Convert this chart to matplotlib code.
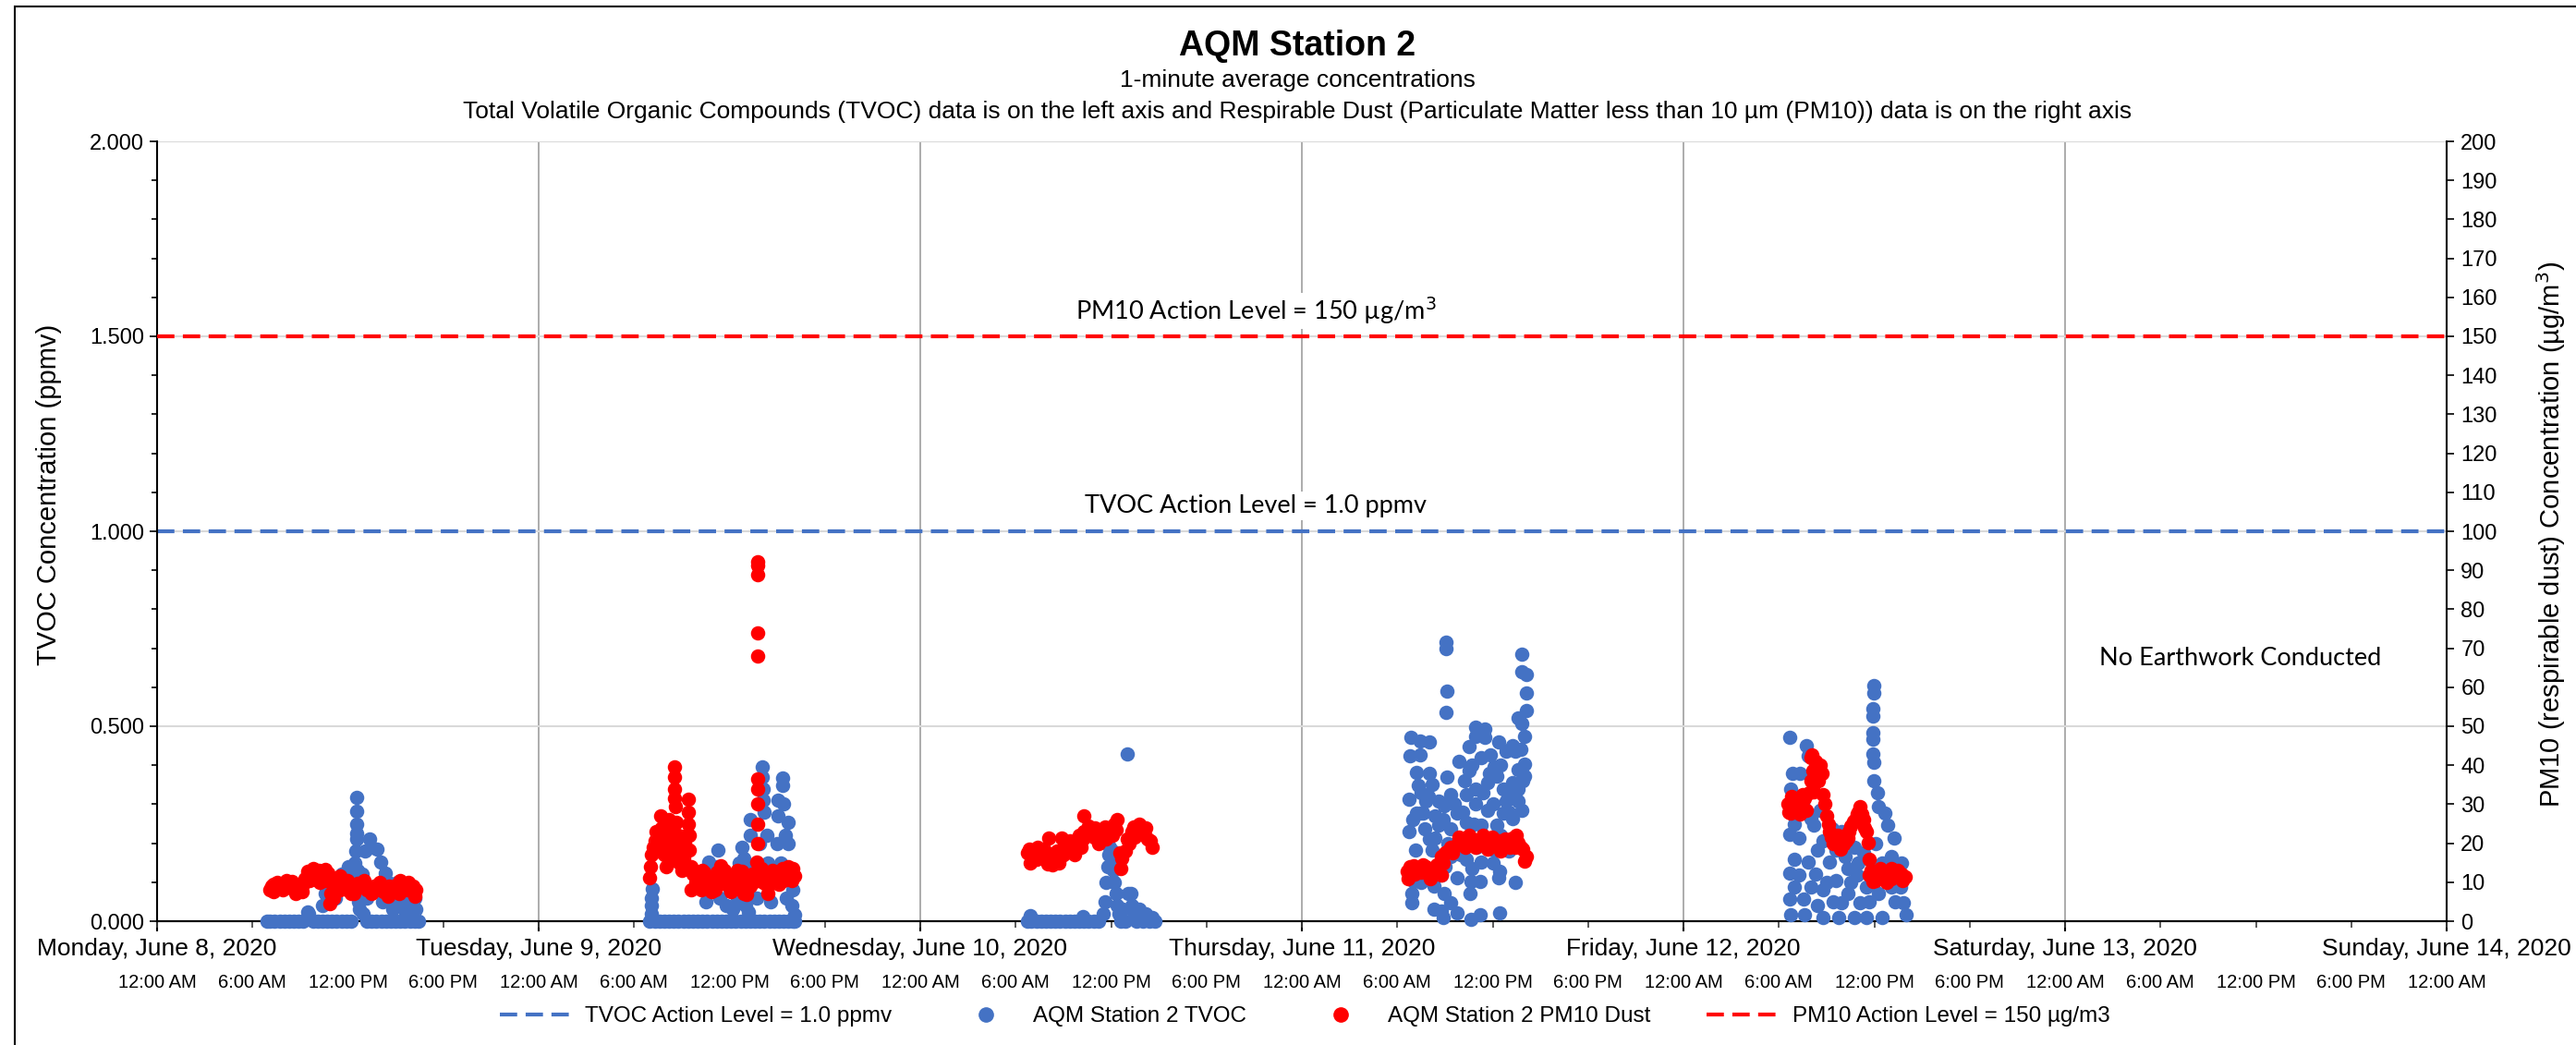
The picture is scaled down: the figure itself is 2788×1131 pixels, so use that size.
import matplotlib.pyplot as plt
import matplotlib.dates as mdates
from matplotlib.lines import Line2D
from matplotlib.patches import Rectangle
from matplotlib.ticker import MultipleLocator
from datetime import datetime, timedelta

# 1-minute readings: (hour of day, value)
# TVOC in ppmv (left axis), PM10 in ug/m3 (right axis)
tvoc_jun08 = [
    (6.9, 0.0), (7.1, 0.0), (7.4, 0.0), (7.7, 0.0), (8.0, 0.0), (8.3, 0.0), (8.6, 0.0), (8.9, 0.0),
    (9.2, 0.0), (9.47, 0.024), (9.55, 0.02), (9.8, 0.0), (10.1, 0.0), (10.4, 0.0), (10.7, 0.0),
    (11.0, 0.0), (11.3, 0.0), (11.6, 0.0), (11.9, 0.0), (12.2, 0.0),
    (10.4, 0.04), (10.6, 0.07), (10.8, 0.05), (11.0, 0.1), (11.2, 0.06), (11.4, 0.08), (11.6, 0.12),
    (11.8, 0.09), (12.0, 0.14), (12.2, 0.11),
    (12.45, 0.15), (12.5, 0.18), (12.55, 0.21), (12.55, 0.225), (12.55, 0.249), (12.55, 0.282),
    (12.55, 0.317), (12.6, 0.13), (12.65, 0.05), (12.7, 0.03), (12.96, 0.02),
    (12.9, 0.12), (13.1, 0.18), (13.37, 0.21), (13.5, 0.19), (13.83, 0.185), (14.06, 0.152),
    (14.35, 0.123), (14.5, 0.1), (14.7, 0.08), (14.9, 0.05), (15.1, 0.1), (15.3, 0.07), (15.5, 0.03),
    (15.7, 0.08), (15.9, 0.04), (16.1, 0.02), (16.3, 0.03),
    (13.2, 0.0), (13.5, 0.0), (13.8, 0.0), (14.1, 0.0), (14.4, 0.0), (14.7, 0.0), (15.0, 0.0),
    (15.3, 0.0), (15.6, 0.0), (15.9, 0.0), (16.2, 0.0), (16.45, 0.0),
    (13.2, 0.06), (13.7, 0.09), (14.2, 0.05), (14.8, 0.03), (15.6, 0.05), (16.2, 0.06),
]
pm10_jun08 = [
    (7.09, 8.0), (7.32, 9.5), (7.55, 10.0), (7.84, 9.2), (8.14, 10.4), (8.43, 8.5), (8.72, 7.2),
    (9.01, 8.8), (9.3, 11.0), (9.47, 12.8), (9.76, 11.5), (9.99, 12.0), (10.17, 13.0), (10.46, 12.0),
    (10.75, 12.3), (10.87, 4.5), (10.92, 7.0), (11.16, 9.0), (11.33, 10.5), (11.51, 11.6),
    (11.74, 9.0), (11.97, 8.0), (12.2, 7.1), (12.49, 8.5), (12.78, 9.5), (13.07, 9.0), (13.37, 8.5),
    (13.66, 9.0), (13.95, 8.2), (14.24, 7.5), (14.53, 6.4), (14.82, 8.0), (15.11, 9.5), (15.28, 10.4),
    (15.52, 8.5), (15.75, 8.0), (15.98, 8.5), (16.27, 8.0),
    (7.2, 9.0), (7.7, 8.5), (8.0, 9.5), (8.6, 9.0), (9.2, 9.5), (9.6, 10.5), (10.3, 11.0),
    (10.6, 10.5), (11.9, 9.5), (12.6, 9.8), (13.2, 8.0), (13.8, 8.0), (14.4, 8.5), (15.0, 8.5),
    (15.6, 9.5), (16.1, 9.0),
    (7.3, 7.5), (7.9, 8.0), (8.5, 10.2), (9.1, 7.5), (9.8, 13.5), (10.2, 10.0), (10.6, 13.3),
    (11.1, 6.0), (11.5, 8.0), (12.0, 10.5), (12.4, 7.0), (13.0, 10.5), (13.5, 7.0), (14.0, 10.0),
    (14.6, 9.0), (15.2, 7.0), (15.8, 10.0), (16.2, 6.5),
]

tvoc_jun09 = [
    (6.97, 0.0), (7.3, 0.0), (7.6, 0.0), (7.9, 0.0), (8.2, 0.0), (8.5, 0.0), (8.8, 0.0), (9.1, 0.0),
    (9.4, 0.0), (9.7, 0.0), (10.0, 0.0), (10.3, 0.0), (10.6, 0.0), (10.9, 0.0), (11.2, 0.0),
    (11.5, 0.0), (11.8, 0.0), (12.1, 0.0), (12.4, 0.0), (12.7, 0.0), (13.0, 0.0), (13.3, 0.0),
    (13.6, 0.0), (13.9, 0.0), (14.2, 0.0), (14.5, 0.0), (14.8, 0.0), (15.1, 0.0), (15.4, 0.0),
    (15.7, 0.0), (16.0, 0.0), (16.1, 0.0),
    (7.1, 0.02), (7.1, 0.04), (7.1, 0.06), (7.12, 0.083),
    (10.5, 0.05), (10.7, 0.152), (10.6, 0.1), (10.8, 0.08), (11.0, 0.12), (11.27, 0.182), (11.2, 0.14),
    (11.4, 0.06), (11.6, 0.1), (11.8, 0.04), (12.0, 0.08), (12.2, 0.03), (12.4, 0.12), (12.6, 0.15),
    (12.78, 0.19), (12.9, 0.16), (13.1, 0.1), (13.31, 0.26), (13.3, 0.22), (13.5, 0.14), (13.7, 0.06),
    (13.9, 0.2), (14.06, 0.396), (14.06, 0.37), (14.1, 0.34), (14.1, 0.31), (14.2, 0.28),
    (14.36, 0.22), (14.4, 0.15), (14.5, 0.1), (14.6, 0.05), (14.8, 0.12), (15.05, 0.31),
    (15.05, 0.27), (15.0, 0.2), (15.2, 0.15), (15.34, 0.367), (15.34, 0.348), (15.4, 0.3),
    (15.5, 0.22), (15.69, 0.254), (15.69, 0.2), (15.8, 0.12), (15.92, 0.04), (16.1, 0.017),
    (16.0, 0.08), (15.6, 0.06), (13.0, 0.04), (12.5, 0.06), (13.2, 0.024),
]
pm10_jun09 = [
    (6.97, 11.1), (7.05, 14.0), (7.1, 17.0), (7.21, 19.0), (7.3, 20.6), (7.4, 23.0), (7.5, 18.0),
    (7.67, 27.0), (7.7, 24.0), (7.8, 21.0), (7.9, 17.0), (8.0, 22.0), (8.13, 24.6), (8.2, 20.0),
    (8.3, 17.0), (8.54, 39.6), (8.54, 37.0), (8.54, 34.0), (8.56, 31.5), (8.58, 29.4), (8.66, 25.4),
    (8.7, 20.0), (8.75, 15.2), (8.9, 17.0), (9.1, 16.0), (9.41, 31.3), (9.41, 28.0), (9.43, 25.0),
    (9.45, 22.0), (9.47, 18.2), (9.59, 8.0), (9.7, 12.0), (9.9, 10.0), (10.11, 11.1), (10.3, 13.0),
    (10.5, 9.0), (10.87, 7.6), (11.0, 11.0), (11.2, 12.5), (11.45, 14.2), (11.6, 11.0), (11.8, 9.5),
    (12.03, 10.4), (12.2, 11.0), (12.4, 9.0), (12.6, 11.5), (12.78, 12.8), (12.9, 10.0),
    (13.07, 6.9), (13.3, 9.0), (13.5, 10.0), (13.66, 11.1), (13.72, 15.2), (13.75, 20.0),
    (13.77, 25.0), (13.77, 30.0), (13.8, 34.0), (13.77, 36.5),
    (13.75, 68.0), (13.75, 74.0), (13.75, 88.9), (13.75, 91.2), (13.75, 92.2),
    (13.9, 12.0), (14.1, 10.0), (14.3, 9.5), (14.53, 9.5), (14.8, 11.0), (15.0, 12.0),
    (15.34, 13.5), (15.6, 12.0), (15.8, 12.5), (16.1, 11.6),
    (7.6, 20.0), (8.4, 22.0), (9.2, 20.0), (10.0, 12.5), (10.7, 10.0), (11.3, 10.0), (12.3, 12.0),
    (13.0, 11.0), (14.2, 12.5), (15.2, 11.0), (15.9, 10.5),
    (8.0, 14.0), (8.2, 26.0), (8.8, 22.0), (9.0, 13.0), (9.3, 22.0), (9.6, 14.0), (10.2, 8.0),
    (10.4, 12.5), (11.1, 8.0), (11.7, 13.0), (12.1, 7.5), (12.5, 13.0), (12.9, 7.0), (13.4, 12.0),
    (14.0, 13.5), (14.4, 7.0), (14.7, 13.0), (15.1, 9.5), (15.4, 10.5), (15.7, 14.0), (16.0, 13.5),
]

tvoc_jun10 = [
    (6.74, 0.0), (6.9, 0.015), (7.0, 0.0), (7.3, 0.0), (7.6, 0.0), (7.9, 0.0), (8.2, 0.0), (8.5, 0.0),
    (8.8, 0.0), (9.1, 0.0), (9.4, 0.0), (9.7, 0.0), (10.0, 0.0), (10.2, 0.012), (10.3, 0.0),
    (10.6, 0.0), (10.9, 0.0), (11.2, 0.0),
    (11.5, 0.02), (11.6, 0.05), (11.7, 0.1), (11.8, 0.14), (11.85, 0.17), (11.9, 0.19), (12.0, 0.16),
    (12.1, 0.18), (12.15, 0.13), (12.2, 0.1), (12.3, 0.07), (12.4, 0.04), (12.5, 0.02), (12.6, 0.0),
    (12.7, 0.03), (12.9, 0.0), (13.02, 0.429), (13.1, 0.07), (13.25, 0.07), (13.3, 0.04),
    (13.5, 0.02), (13.6, 0.0), (13.8, 0.03), (14.0, 0.0), (14.2, 0.02), (14.4, 0.0), (14.6, 0.01),
    (14.76, 0.0),
]
pm10_jun10 = [
    (6.74, 17.5), (6.85, 18.5), (7.0, 16.5), (7.2, 17.0), (7.32, 15.9), (7.5, 17.5), (7.7, 16.0),
    (8.02, 14.7), (8.05, 21.3), (8.2, 17.0), (8.4, 16.0), (8.6, 18.0), (8.83, 16.6), (8.9, 21.3),
    (9.1, 19.0), (9.3, 18.0), (9.59, 19.0), (9.8, 20.5), (10.0, 22.0), (10.2, 21.0), (10.28, 27.0),
    (10.3, 23.0), (10.5, 22.0), (10.7, 24.0), (10.9, 21.5), (11.2, 20.0), (11.4, 23.0),
    (11.6, 24.2), (11.8, 23.0), (12.0, 24.0), (12.2, 25.0), (12.37, 26.0), (12.55, 17.5),
    (12.6, 13.5), (12.65, 16.0), (12.9, 18.0), (13.13, 20.0), (13.3, 23.0), (13.42, 24.2),
    (13.6, 23.0), (13.89, 23.5), (14.1, 22.0), (14.3, 21.0), (14.58, 19.0),
    (6.9, 15.0), (7.4, 19.0), (7.8, 18.5), (8.3, 14.5), (8.7, 15.0), (9.0, 17.0), (9.4, 20.5),
    (9.7, 17.0), (10.1, 19.0), (10.6, 24.5), (11.0, 24.0), (11.3, 21.5), (11.7, 21.0), (12.1, 22.0),
    (12.3, 23.5), (13.0, 21.0), (13.5, 21.5), (13.8, 25.0), (14.2, 24.0), (14.45, 20.5),
]

tvoc_jun11 = [
    (9.06, 0.716), (9.06, 0.700), (9.10, 0.589), (9.06, 0.536), (13.81, 0.684), (13.81, 0.640),
    (14.10, 0.632), (14.10, 0.585), (14.10, 0.541), (13.61, 0.522), (13.81, 0.506), (14.0, 0.475),
    (6.83, 0.471), (7.41, 0.463), (8.03, 0.459), (6.79, 0.423), (7.41, 0.427), (10.93, 0.498),
    (10.93, 0.475), (11.48, 0.494), (11.48, 0.471), (12.35, 0.459), (10.51, 0.447), (9.89, 0.410),
    (10.51, 0.386), (9.12, 0.370), (7.22, 0.382), (8.03, 0.380), (7.32, 0.348), (6.74, 0.313),
    (7.99, 0.320), (10.22, 0.360), (11.29, 0.419), (11.87, 0.427), (12.06, 0.396), (12.84, 0.435),
    (13.23, 0.451), (14.0, 0.404), (14.0, 0.372), (13.61, 0.340), (13.61, 0.309), (13.81, 0.285),
    (8.96, 0.297), (7.41, 0.277), (8.38, 0.270), (9.74, 0.277), (10.90, 0.301), (11.67, 0.285),
    (12.64, 0.277), (6.74, 0.230), (7.70, 0.238), (8.58, 0.246), (9.35, 0.238), (10.32, 0.254),
    (11.29, 0.246), (12.26, 0.246), (13.23, 0.262), (13.42, 0.206), (7.12, 0.183), (8.19, 0.183),
    (9.35, 0.167), (10.71, 0.136), (11.29, 0.151), (12.45, 0.127), (12.35, 0.111), (13.42, 0.099),
    (7.03, 0.103), (7.51, 0.099), (8.29, 0.091), (8.77, 0.119), (9.74, 0.111), (10.61, 0.103),
    (11.19, 0.103), (6.93, 0.072), (6.93, 0.048), (8.96, 0.072), (9.35, 0.048), (10.55, 0.070),
    (8.29, 0.031), (8.87, 0.009), (9.74, 0.021), (10.61, 0.005), (11.19, 0.017), (12.41, 0.021),
    (8.77, 0.025), (7.80, 0.309), (8.58, 0.309), (9.35, 0.325), (10.32, 0.325), (10.90, 0.340),
    (11.68, 0.356), (12.26, 0.372), (12.64, 0.340), (13.03, 0.325), (8.38, 0.214), (9.16, 0.199),
    (9.93, 0.214), (10.51, 0.199), (11.68, 0.214), (12.06, 0.183), (10.32, 0.159), (7.99, 0.135),
    (7.61, 0.277), (12.84, 0.309), (13.23, 0.356), (13.61, 0.388), (13.42, 0.435), (7.22, 0.277),
    (6.83, 0.135), (7.5, 0.33), (8.2, 0.35), (8.9, 0.26), (9.6, 0.30), (10.1, 0.28), (10.8, 0.25),
    (11.4, 0.33), (12.0, 0.30), (12.5, 0.22), (13.0, 0.28), (13.8, 0.44), (13.9, 0.36), (7.0, 0.26),
    (8.0, 0.21), (9.0, 0.14), (10.0, 0.17), (11.0, 0.19), (12.0, 0.15), (13.0, 0.18), (11.8, 0.38),
    (12.5, 0.40), (10.7, 0.40),
]
pm10_jun11 = [
    (6.63, 12.8), (7.03, 14.2), (7.23, 13.4), (7.5, 12.5), (8.02, 12.8), (8.4, 13.0), (8.78, 11.9),
    (8.8, 16.6), (9.0, 17.5), (9.36, 19.0), (9.7, 19.5), (10.1, 20.1), (10.4, 20.5), (10.7, 21.0),
    (11.0, 20.5), (11.27, 20.6), (11.55, 20.0), (11.85, 20.1), (12.2, 19.5), (12.67, 19.0),
    (12.95, 20.0), (13.25, 21.3), (13.6, 20.1), (13.9, 18.5), (14.12, 16.6),
    (6.8, 14.0), (7.8, 14.0), (9.2, 18.0), (10.3, 19.0), (11.1, 19.5), (12.4, 20.5), (13.4, 19.0),
    (6.7, 11.0), (7.1, 12.0), (7.6, 14.5), (8.1, 11.0), (8.5, 14.5), (8.9, 15.0), (9.5, 17.5),
    (9.9, 21.5), (10.5, 22.0), (10.9, 19.0), (11.4, 22.0), (11.7, 18.5), (12.0, 21.5), (12.5, 18.0),
    (12.8, 21.0), (13.1, 19.0), (13.5, 22.0), (13.75, 19.0), (14.0, 15.5),
]

tvoc_jun12 = [
    (11.89, 0.546), (11.89, 0.526), (11.89, 0.483), (11.89, 0.467), (11.89, 0.428), (11.99, 0.408),
    (11.99, 0.360), (12.18, 0.329), (6.66, 0.471), (7.73, 0.451), (7.83, 0.423), (6.86, 0.380),
    (7.34, 0.380), (6.76, 0.340), (6.95, 0.285), (6.66, 0.222), (6.95, 0.159), (6.66, 0.123),
    (6.95, 0.088), (6.66, 0.056), (6.76, 0.017), (7.54, 0.056), (7.63, 0.017), (7.24, 0.119),
    (7.83, 0.151), (8.41, 0.182), (8.79, 0.206), (8.79, 0.080), (8.79, 0.009), (9.18, 0.151),
    (9.57, 0.104), (9.76, 0.009), (9.96, 0.230), (10.15, 0.167), (10.34, 0.072), (10.73, 0.009),
    (10.92, 0.119), (11.12, 0.048), (11.31, 0.175), (12.28, 0.293), (12.67, 0.277), (12.86, 0.246),
    (13.25, 0.214), (13.06, 0.167), (13.44, 0.119), (13.64, 0.088), (13.83, 0.048), (14.02, 0.017),
    (12.47, 0.009), (11.51, 0.009), (12.28, 0.072), (8.21, 0.246), (8.60, 0.285), (8.02, 0.088),
    (9.57, 0.182), (10.34, 0.135), (11.51, 0.088), (7.24, 0.214), (8.02, 0.262), (9.37, 0.238),
    (10.73, 0.190), (11.89, 0.135), (13.06, 0.088), (8.41, 0.040), (9.96, 0.048), (11.95, 0.604),
    (11.95, 0.585), (7.0, 0.25), (7.5, 0.30), (8.3, 0.12), (9.0, 0.10), (9.4, 0.05), (10.5, 0.10),
    (11.0, 0.15), (11.7, 0.05), (12.1, 0.20), (12.5, 0.15), (13.3, 0.05), (13.7, 0.15),
]
pm10_jun12 = [
    (6.57, 30.1), (6.76, 27.7), (7.05, 29.3), (7.44, 30.1), (7.73, 28.4), (8.02, 41.9), (8.08, 42.7),
    (8.12, 38.7), (8.21, 33.2), (8.41, 39.5), (8.7, 37.9), (8.79, 32.4), (8.99, 26.9), (9.18, 22.9),
    (9.57, 20.5), (10.05, 19.7), (10.34, 21.3), (10.54, 24.4), (10.83, 26.0), (11.12, 29.3),
    (11.31, 26.0), (11.51, 22.9), (11.6, 20.1), (11.7, 15.8), (11.7, 11.8), (11.89, 10.3),
    (12.28, 12.6), (12.67, 11.1), (13.06, 13.4), (13.44, 11.8), (13.93, 11.4),
    (6.9, 31.0), (7.2, 28.0), (7.6, 31.5), (9.3, 21.5), (9.8, 19.5), (12.0, 12.0), (12.5, 12.0),
    (12.9, 12.0), (13.3, 12.5), (13.7, 12.0),
    (6.6, 28.0), (6.8, 32.0), (7.3, 27.5), (7.5, 32.5), (7.9, 33.0), (8.0, 36.0), (8.3, 41.0),
    (8.5, 36.0), (8.6, 40.0), (8.9, 30.0), (9.1, 25.0), (9.4, 20.0), (9.7, 22.0), (9.9, 18.5),
    (10.2, 20.5), (10.4, 23.0), (10.7, 25.5), (10.9, 27.5), (11.0, 28.0), (11.2, 27.5), (11.4, 24.0),
    (11.8, 13.0), (12.1, 10.5), (12.4, 13.5), (12.8, 10.0), (13.1, 11.0), (13.5, 13.0), (13.8, 10.5),
]

tvoc_days = [(0, tvoc_jun08), (1, tvoc_jun09), (2, tvoc_jun10), (3, tvoc_jun11), (4, tvoc_jun12)]
pm10_days = [(0, pm10_jun08), (1, pm10_jun09), (2, pm10_jun10), (3, pm10_jun11), (4, pm10_jun12)]

day_labels = ["Monday, June 8, 2020", "Tuesday, June 9, 2020", "Wednesday, June 10, 2020",
              "Thursday, June 11, 2020", "Friday, June 12, 2020", "Saturday, June 13, 2020",
              "Sunday, June 14, 2020"]
hour_labels = ["12:00 AM", "6:00 AM", "12:00 PM", "6:00 PM"]
tvoc_action = 1.0
pm10_action = 150

start = datetime(2020, 6, 8)
BLUE = "#4472C4"
RED = "#FF0000"
ARIAL = "Liberation Sans"
CALIBRI = "Lato"
DOT = 125


def series(days):
    xs, ys = [], []
    for d, pts in days:
        for h, v in pts:
            xs.append(mdates.date2num(start + timedelta(days=d, hours=h)))
            ys.append(v)
    return xs, ys


tx, ty = series(tvoc_days)
px, py = series(pm10_days)

plt.rcParams['font.family'] = ARIAL
W, H = 2788, 1131
fig = plt.figure(figsize=(W / 100, H / 100), dpi=100)
ax = fig.add_axes([170 / W, 1 - 997 / H, (2648 - 170) / W, (997 - 153) / H])
ax2 = ax.twinx()

x0 = mdates.date2num(start)
day_nums = [x0 + i for i in range(7)]
six_nums = [x0 + i * 0.25 for i in range(25)]

# left axis: TVOC
ax.set_xlim(x0, x0 + 6)
ax.set_ylim(0, 2)
ax.set_yticks([0, 0.5, 1.0, 1.5, 2.0])
ax.set_yticklabels([f"{v:.3f}" for v in [0, 0.5, 1.0, 1.5, 2.0]])
ax.yaxis.set_minor_locator(MultipleLocator(0.1))
ax.grid(axis='y', color='#d9d9d9', lw=1.5, zorder=0)
for d in day_nums[1:-1]:
    ax.axvline(d, color='#a6a6a6', lw=1.3, zorder=0)
ax.axhline(tvoc_action, color=BLUE, lw=3, ls=(0, (4.5, 2.2)), zorder=2)
ax.scatter(tx, ty, s=DOT, color=BLUE, linewidths=0, zorder=3, clip_on=False)

ax.set_xticks(six_nums)
ax.set_xticklabels([hour_labels[i % 4] for i in range(25)])
ax.tick_params(axis='x', length=5, width=1.2, pad=36, labelsize=14.5, color='#404040')
ax.tick_params(axis='y', which='major', length=6, width=1.2, labelsize=17, pad=4)
ax.tick_params(axis='y', which='minor', length=4, width=1.2)
for s in ['top', 'right']:
    ax.spines[s].set_visible(False)
for s in ['left', 'bottom']:
    ax.spines[s].set_linewidth(1.5)

sec = ax.secondary_xaxis('bottom')
sec.set_xticks(day_nums)
sec.set_xticklabels(day_labels)
sec.tick_params(length=8, width=1.5, pad=5, labelsize=19)
sec.spines['bottom'].set_linewidth(1.5)

# right axis: PM10
ax2.set_ylim(0, 200)
ax2.set_yticks(range(0, 201, 10))
ax2.tick_params(axis='y', length=6, width=1.2, labelsize=17, pad=5)
for s in ['top', 'left', 'bottom']:
    ax2.spines[s].set_visible(False)
ax2.spines['right'].set_linewidth(1.5)
ax2.axhline(pm10_action, color=RED, lw=3, ls=(0, (4.5, 2.2)), zorder=2)
ax2.scatter(px, py, s=DOT, color=RED, linewidths=0, zorder=3, clip_on=False)

ax2.text(x0 + 2.88, 156.5, "PM10 Action Level = 150 \u00b5g/m$^3$", family=CALIBRI, fontsize=19.5,
         ha='center', va='center', bbox=dict(fc='white', ec='none', pad=2))
ax2.text(x0 + 2.88, 106.5, "TVOC Action Level = 1.0 ppmv", family=CALIBRI, fontsize=19.5,
         ha='center', va='center', bbox=dict(fc='white', ec='none', pad=2))
ax2.text(x0 + 5.46, 67.5, "No Earthwork Conducted", family=CALIBRI, fontsize=19.5,
         ha='center', va='center')

fig.text(1404 / W, 1 - 50 / H, "AQM Station 2", fontsize=27, fontweight='bold', ha='center', va='center')
fig.text(1404 / W, 1 - 87 / H, "1-minute average concentrations", fontsize=19, ha='center', va='center')
fig.text(1404 / W, 1 - 121 / H,
         "Total Volatile Organic Compounds (TVOC) data is on the left axis and Respirable Dust "
         "(Particulate Matter less than 10 \u00b5m (PM10)) data is on the right axis",
         fontsize=19, ha='center', va='center')
fig.text(53 / W, 1 - 535 / H, "TVOC Concentration (ppmv)", fontsize=21, rotation=90,
         ha='center', va='center')
fig.text(2761 / W, 1 - 578 / H, "PM10 (respirable dust) Concentration (\u00b5g/m$^3$)", fontsize=21,
         rotation=90, ha='center', va='center')

handles = [
    Line2D([], [], color=BLUE, lw=3, ls=(0, (4.5, 2.2))),
    Line2D([], [], color=BLUE, marker='o', ls='none', markersize=11),
    Line2D([], [], color=RED, marker='o', ls='none', markersize=11),
    Line2D([], [], color=RED, lw=3, ls=(0, (4.5, 2.2))),
]
labels = ["TVOC Action Level = 1.0 ppmv", "AQM Station 2 TVOC", "AQM Station 2 PM10 Dust",
          "PM10 Action Level = 150 \u00b5g/m3"]
fig.legend(handles, labels, loc='center', bbox_to_anchor=(1412 / W, 1 - 1100 / H), ncol=4,
           frameon=False, fontsize=17.5, handlelength=3.4, handletextpad=0.4, columnspacing=2.5)

fig.patches.append(Rectangle((16 / W, -0.1), 1.2, 1 - 7 / H + 0.1, transform=fig.transFigure,
                             fill=False, ec='black', lw=1.5))

fig.savefig("out.png", dpi=100)
